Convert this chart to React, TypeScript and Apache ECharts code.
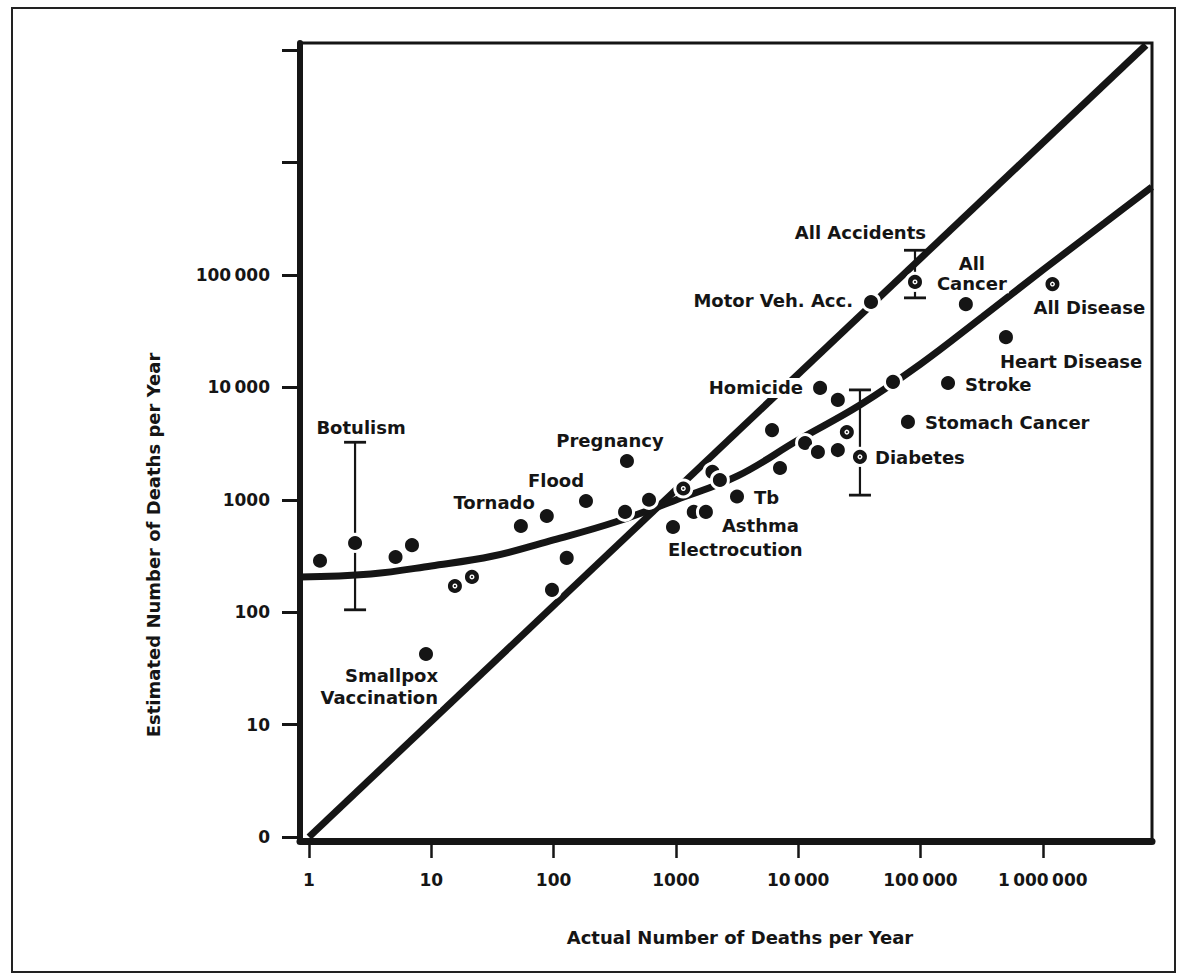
import React, { useEffect, useRef } from "react";
import * as echarts from "echarts";

// ---- axis ticks ----
const xTickValues = [1, 10, 100, 1000, 10000, 100000, 1000000];
const xTickLabels = ["1", "10", "100", "1000", "10\u2009000", "100\u2009000", "1\u2009000\u2009000"];
const yTickValues = [1, 10, 100, 1000, 10000, 100000, 1000000, 10000000];
const yTickLabels = ["0", "10", "100", "1000", "10\u2009000", "100\u2009000", "", ""];

const xTitle = "Actual Number of Deaths per Year";
const yTitle = "Estimated Number of Deaths per Year";

// ---- data points ----
const causes = [
  "", "Botulism", "", "", "Smallpox Vaccination", "", "", "", "Tornado", "Flood",
  "Pregnancy", "", "", "", "", "Electrocution", "", "Asthma", "Tb", "",
  "", "", "", "", "Homicide", "", "", "", "", "",
  "Diabetes", "", "Stroke", "Stomach Cancer", "Motor Veh. Acc.", "All Accidents", "All Cancer", "All Disease", "Heart Disease",
];
const actual = [
  1.23, 2.38, 5.1, 6.95, 9.05, 15.6, 21.5, 54, 88, 184,
  398, 128, 97, 384, 603, 947, 1400, 1760, 3160, 1150,
  1990, 2290, 6110, 7100, 15100, 21100, 11380, 14500, 21100, 25000,
  32000, 59600, 168000, 79000, 39400, 90200, 235000, 1200000, 500000,
];
const estimated = [
  287, 413, 310, 395, 42.5, 171, 206, 585, 718, 975,
  2215, 304, 158, 780, 1000, 573, 780, 780, 1070, 1260,
  1770, 1500, 4170, 1920, 9890, 7740, 3200, 2660, 2770, 4000,
  2410, 11200, 10950, 4930, 57500, 86800, 55000, 83000, 28000,
];
const ringMarker = [
  false, false, false, false, false, true, true, false, false, false,
  false, false, false, false, false, false, false, false, false, true,
  false, false, false, false, false, false, false, false, false, true,
  true, false, false, false, false, true, false, true, false,
];

// ---- error bars ----
const errX = [2.38, 90200, 32000];
const errLow = [105, 62600, 1100];
const errHigh = [3250, 166000, 9500];

// ---- reference lines ----
const diagonalX = [1, 6980000];
const diagonalY = [1, 11100000];
const curveX = [0.85, 3.2, 10, 32, 100, 320, 1000, 3200, 10000, 32000, 100000, 320000, 1000000, 3200000, 7800000];
const curveY = [206, 219, 258, 316, 439, 634, 996, 1630, 3400, 6970, 16100, 42300, 110700, 290000, 607000];

// ---- label layout (style only) ----
type LL = { align: string; offset: number[]; text?: string; lineHeight?: number };
const labelLayout: Record<string, LL> = {
  "Botulism": { align: "center", offset: [6, -115] },
  "Smallpox Vaccination": { align: "right", offset: [14, 33], text: "Smallpox\nVaccination", lineHeight: 22 },
  "Tornado": { align: "right", offset: [-10, -13] },
  "Flood": { align: "center", offset: [-30, -21] },
  "Pregnancy": { align: "center", offset: [-17, -20] },
  "Electrocution": { align: "left", offset: [-7, 23] },
  "Asthma": { align: "left", offset: [14, 14] },
  "Tb": { align: "left", offset: [15, 1] },
  "Homicide": { align: "right", offset: [-15, 0] },
  "Diabetes": { align: "left", offset: [13, 1] },
  "Stomach Cancer": { align: "left", offset: [15, 1] },
  "Stroke": { align: "left", offset: [15, 2] },
  "Heart Disease": { align: "left", offset: [-8, 24] },
  "All Disease": { align: "left", offset: [-21, 23] },
  "All Cancer": { align: "center", offset: [6, -31], text: "All\nCancer", lineHeight: 20 },
  "Motor Veh. Acc.": { align: "right", offset: [-16, -2] },
  "All Accidents": { align: "right", offset: [13, -49] },
};

const FONT = "DejaVu Sans";
const INK = "#151515";

function tickLabel(values: number[], labels: string[]) {
  return (v: number) => {
    const lv = Math.log10(v);
    for (let i = 0; i < values.length; i++) {
      if (Math.abs(Math.log10(values[i]) - lv) < 1e-6) return labels[i];
    }
    return "";
  };
}

export default function App() {
  const ref = useRef<HTMLDivElement>(null);

  useEffect(() => {
    document.body.style.margin = "0";
    if (!ref.current) return;
    const chart = echarts.init(ref.current, null, { renderer: "svg" });

    const dots = actual.map((x, i) => {
      const name = causes[i];
      const L = labelLayout[name];
      return {
        name,
        value: [x, estimated[i]],
        label: L
          ? {
              show: true,
              formatter: L.text ?? name,
              position: "inside",
              align: L.align,
              verticalAlign: "middle",
              offset: L.offset,
              lineHeight: L.lineHeight ?? 20,
              color: INK,
              fontFamily: FONT,
              fontSize: 18,
              fontWeight: "bold",
              backgroundColor: "#fff",
              padding: [0, 2],
              textBorderWidth: 0,
            }
          : { show: false },
      };
    });
    const rings = actual
      .map((x, i) => [x, estimated[i]])
      .filter((_, i) => ringMarker[i]);

    chart.setOption({
      animation: false,
      backgroundColor: "#fff",
      textStyle: { fontFamily: FONT },
      grid: {
        left: 300,
        top: 43,
        width: 852,
        height: 798,
        show: true,
        borderColor: INK,
        borderWidth: 3,
        containLabel: false,
        outerBoundsMode: "none",
      },
      xAxis: {
        type: "log",
        logBase: 10,
        min: 0.844,
        max: 7820000,
        axisLine: { show: true, lineStyle: { color: INK, width: 7 } },
        axisTick: { show: true, customValues: xTickValues, length: 17, lineStyle: { color: INK, width: 2.5 } },
        axisLabel: {
          customValues: xTickValues,
          formatter: tickLabel(xTickValues, xTickLabels),
          margin: 30,
          color: INK,
          fontFamily: FONT,
          fontSize: 17,
          fontWeight: "bold",
        },
        splitLine: { show: false },
        minorTick: { show: false },
      },
      yAxis: {
        type: "log",
        logBase: 10,
        min: 0.921,
        max: 11590000,
        axisLine: { show: true, lineStyle: { color: INK, width: 6 } },
        axisTick: { show: true, customValues: yTickValues, length: 18, lineStyle: { color: INK, width: 3 } },
        axisLabel: {
          customValues: yTickValues,
          formatter: tickLabel(yTickValues, yTickLabels),
          margin: 30,
          color: INK,
          fontFamily: FONT,
          fontSize: 17,
          fontWeight: "bold",
        },
        splitLine: { show: false },
        minorTick: { show: false },
      },
      series: [
        {
          type: "line",
          z: 2,
          data: diagonalX.map((x, i) => [x, diagonalY[i]]),
          showSymbol: false,
          symbol: "none",
          lineStyle: { color: INK, width: 7, cap: "butt" },
        },
        {
          type: "line",
          z: 2,
          data: curveX.map((x, i) => [x, curveY[i]]),
          showSymbol: false,
          symbol: "none",
          smooth: 0.4,
          lineStyle: { color: INK, width: 7, cap: "butt" },
        },
        {
          type: "custom",
          z: 3,
          data: errX.map((x, i) => [x, errLow[i], errHigh[i]]),
          encode: { x: 0, y: [1, 2] },
          renderItem: (params: any, api: any) => {
            const top = api.coord([api.value(0), api.value(2)]);
            const bot = api.coord([api.value(0), api.value(1)]);
            const w = 11;
            const style = { stroke: INK, lineWidth: 2.2, fill: "none" };
            return {
              type: "group",
              children: [
                { type: "line", shape: { x1: top[0], y1: top[1], x2: bot[0], y2: bot[1] }, style },
                { type: "line", shape: { x1: top[0] - w, y1: top[1], x2: top[0] + w, y2: top[1] }, style: { ...style, lineWidth: 2.8 } },
                { type: "line", shape: { x1: bot[0] - w, y1: bot[1], x2: bot[0] + w, y2: bot[1] }, style: { ...style, lineWidth: 2.8 } },
              ],
            };
          },
        },
        {
          type: "scatter",
          z: 5,
          data: dots,
          symbol: "circle",
          symbolSize: 17,
          itemStyle: { color: INK, borderColor: "#fff", borderWidth: 3, opacity: 1 },
          emphasis: { disabled: true },
        },
        {
          type: "scatter",
          z: 6,
          data: rings,
          symbol: "circle",
          symbolSize: 5,
          itemStyle: { color: "#fff", opacity: 1 },
          emphasis: { disabled: true },
        },
        {
          type: "scatter",
          z: 7,
          data: rings,
          symbol: "circle",
          symbolSize: 2.2,
          itemStyle: { color: INK, opacity: 1 },
          emphasis: { disabled: true },
        },
      ],
      graphic: [
        {
          type: "rect",
          silent: true,
          shape: { x: 12, y: 8, width: 1163, height: 964 },
          style: { fill: "none", stroke: "#222", lineWidth: 2 },
        },
        {
          type: "text",
          silent: true,
          x: 740,
          y: 937,
          style: {
            text: xTitle,
            fill: INK,
            font: `bold 18px "${FONT}"`,
            textAlign: "center",
            textVerticalAlign: "middle",
          },
        },
        {
          type: "text",
          silent: true,
          x: 153,
          y: 545,
          rotation: Math.PI / 2,
          style: {
            text: yTitle,
            fill: INK,
            font: `bold 18px "${FONT}"`,
            textAlign: "center",
            textVerticalAlign: "middle",
          },
        },
      ],
    });

    return () => chart.dispose();
  }, []);

  return <div ref={ref} style={{ width: 1181, height: 978 }} />;
}
